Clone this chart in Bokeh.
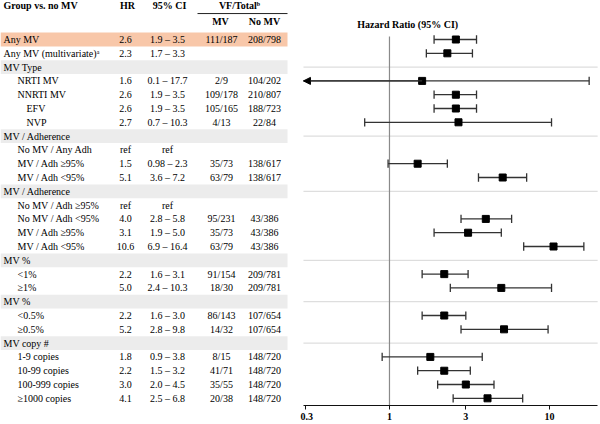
import math
from bokeh.plotting import figure
from bokeh.layouts import row
from bokeh.models import (ColumnDataSource, Range1d, FixedTicker, NumeralTickFormatter,
                          Arrow, NormalHead, Label)
from bokeh.core.properties import value
from bokeh.embed import file_html
from bokeh.resources import INLINE

# ---------------- data ----------------
labels = ["Any MV", "Any MV (multivariate)\u1d43", "MV Type", "NRTI MV", "NNRTI MV", "EFV", "NVP",
          "MV / Adherence", "No MV / Any Adh", "MV / Adh \u226595%", "MV / Adh <95%",
          "MV / Adherence", "No MV / Adh \u226595%", "No MV / Adh <95%", "MV / Adh \u226595%", "MV / Adh <95%",
          "MV %", "<1%", "\u22651%",
          "MV %", "<0.5%", "\u22650.5%",
          "MV copy #", "1-9 copies", "10-99 copies", "100-999 copies", "\u22651000 copies"]
indent = [0, 0, 0, 1, 1, 2, 2,
          0, 1, 1, 1,
          0, 1, 1, 1, 1,
          0, 1, 1,
          0, 1, 1,
          0, 1, 1, 1, 1]
kind = ["hl", "data", "group", "data", "data", "data", "data",
        "group", "ref", "data", "data",
        "group", "ref", "data", "data", "data",
        "group", "data", "data",
        "group", "data", "data",
        "group", "data", "data", "data", "data"]
N = None
hr = [2.6, 2.3, N, 1.6, 2.6, 2.6, 2.7,
      N, N, 1.5, 5.1,
      N, N, 4.0, 3.1, 10.6,
      N, 2.2, 5.0,
      N, 2.2, 5.2,
      N, 1.8, 2.2, 3.0, 4.1]
ci_lo = [1.9, 1.7, N, 0.1, 1.9, 1.9, 0.7,
         N, N, 0.98, 3.6,
         N, N, 2.8, 1.9, 6.9,
         N, 1.6, 2.4,
         N, 1.6, 2.8,
         N, 0.9, 1.5, 2.0, 2.5]
ci_hi = [3.5, 3.3, N, 17.7, 3.5, 3.5, 10.3,
         N, N, 2.3, 7.2,
         N, N, 5.8, 5.0, 16.4,
         N, 3.1, 10.3,
         N, 3.0, 9.8,
         N, 3.8, 3.2, 4.5, 6.8]
vf_mv = ["111/187", "", "", "2/9", "109/178", "105/165", "4/13",
         "", "", "35/73", "63/79",
         "", "", "95/231", "35/73", "63/79",
         "", "91/154", "18/30",
         "", "86/143", "14/32",
         "", "8/15", "41/71", "35/55", "20/38"]
vf_nomv = ["208/798", "", "", "104/202", "210/807", "188/723", "22/84",
           "", "", "138/617", "138/617",
           "", "", "43/386", "43/386", "43/386",
           "", "209/781", "209/781",
           "", "107/654", "107/654",
           "", "148/720", "148/720", "148/720", "148/720"]
x_ticks = [0.3, 1, 3, 10]
REF_HR = 1

# ---------------- styling / layout ----------------
FONT = "Liberation Serif"
FS = "10px"
FH = 405                      # frame height (shared)
Y_TOP, Y_BOT = -2.826, 26.52  # row coordinates at frame top/bottom
AX_LO, AX_HI = 0.29, 20.0
GREY_BAND = "#ececec"
ORANGE_BAND = "#f8c7a9"
TXT = "#000000"

rows = list(range(len(labels)))
yr = Range1d(start=Y_BOT, end=Y_TOP)

hr_txt, ci_txt = [], []
for k, h, lo, hi in zip(kind, hr, ci_lo, ci_hi):
    if k == "ref":
        hr_txt.append("ref"); ci_txt.append("ref")
    elif h is None:
        hr_txt.append(""); ci_txt.append("")
    else:
        hr_txt.append(str(h)); ci_txt.append(f"{lo} \u2013 {hi}")

indent_x = [3, 17, 26]
src = ColumnDataSource(dict(
    y=rows, label=labels, lx=[indent_x[i] for i in indent],
    hr=hr_txt, ci=ci_txt, mv=vf_mv, nomv=vf_nomv))

# ---------------- left: table ----------------
t = figure(x_range=Range1d(0, 300), y_range=yr, frame_width=300, frame_height=FH,
           min_border=0, x_axis_location=None, y_axis_location=None,
           toolbar_location=None, output_backend="svg")
t.grid.visible = False
t.outline_line_color = None

grp = [i for i in rows if kind[i] == "group"]
hl = [i for i in rows if kind[i] == "hl"]
t.quad(left=0, right=287, top=[i - 0.5 for i in grp], bottom=[i + 0.5 for i in grp],
       fill_color=GREY_BAND, line_color=None)
t.quad(left=0, right=287, top=[i - 0.5 for i in hl], bottom=[i + 0.5 for i in hl],
       fill_color=ORANGE_BAND, line_color=None)

common = dict(source=src, y="y", text_font=value(FONT), text_font_size=FS,
              text_baseline="middle", text_color=TXT)
t.text(x="lx", text="label", text_align="left", **common)
t.text(x=125, text="hr", text_align="center", **common)
t.text(x=167, text="ci", text_align="center", **common)
t.text(x=221, text="mv", text_align="center", **common)
t.text(x=264, text="nomv", text_align="center", **common)

hdr = dict(text_font=value(FONT), text_font_size=FS, text_font_style="bold",
           text_baseline="middle", text_color=TXT)
t.text(x=[3], y=[-2.43], text=["Group vs. no MV"], text_align="left", **hdr)
t.text(x=[127, 169, 239], y=[-2.43] * 3, text=["HR", "95% CI", "VF/Total\u1d47"],
       text_align="center", **hdr)
t.text(x=[220, 264], y=[-1.27] * 2, text=["MV", "No MV"], text_align="center", **hdr)
t.segment(x0=197, x1=287, y0=-1.88, y1=-1.88, line_color="#222222", line_width=1)

# ---------------- right: forest plot ----------------
p = figure(x_axis_type="log", x_range=Range1d(0.2779, 20.84), y_range=yr,
           frame_width=300, frame_height=FH, min_border=0, y_axis_location=None,
           toolbar_location=None, output_backend="svg")
p.grid.visible = False
p.outline_line_color = None

p.segment(x0=AX_LO, x1=AX_HI, y0=grp, y1=grp, line_color="#d6d6d6", line_width=1)
p.segment(x0=REF_HR, x1=REF_HR, y0=-0.22, y1=Y_BOT, line_color="#8a8a8a", line_width=1.2)

d = [i for i in rows if hr[i] is not None]
lo_draw = [max(ci_lo[i], AX_LO) for i in d]
fs = ColumnDataSource(dict(y=d, hr=[hr[i] for i in d], lo=lo_draw, hi=[ci_hi[i] for i in d]))
WC = "#333333"
p.segment(x0="lo", x1="hi", y0="y", y1="y", source=fs, line_color=WC, line_width=1.3)
cap_lo = [i for i in d if ci_lo[i] >= AX_LO]
p.segment(x0=[ci_lo[i] for i in cap_lo], x1=[ci_lo[i] for i in cap_lo],
          y0=[i - 0.3 for i in cap_lo], y1=[i + 0.3 for i in cap_lo], line_color=WC, line_width=1.3)
p.segment(x0=[ci_hi[i] for i in d], x1=[ci_hi[i] for i in d],
          y0=[i - 0.3 for i in d], y1=[i + 0.3 for i in d], line_color=WC, line_width=1.3)
p.scatter(x="hr", y="y", source=fs, marker="square", size=7, fill_color="black", line_color="black")

for i in d:
    if ci_lo[i] < AX_LO:
        p.add_layout(Arrow(end=NormalHead(size=7, fill_color="black", line_color="black"),
                           x_start=hr[i], y_start=i, x_end=AX_LO, y_end=i,
                           line_color=WC, line_width=1.3))

p.add_layout(Label(x=1.3, y=-1.12, text="Hazard Ratio (95% CI)", text_align="center",
                   text_baseline="middle", text_font=FONT, text_font_size=FS,
                   text_font_style="bold", text_color=TXT))

ax = p.xaxis[0]
ax.ticker = FixedTicker(ticks=x_ticks)
ax.formatter = NumeralTickFormatter(format="0.[0]")
ax.bounds = (AX_LO, AX_HI)
ax.axis_line_color = "#111111"
ax.axis_line_width = 1.2
ax.major_tick_line_color = "#111111"
ax.major_tick_in = 0
ax.major_tick_out = 4
ax.minor_tick_line_color = None
ax.major_label_standoff = 3
ax.major_label_text_font = FONT
ax.major_label_text_font_size = FS
ax.major_label_text_font_style = "bold"
ax.major_label_text_color = TXT

layout = row(t, p)
open("out.html", "w").write(file_html(layout, INLINE))
